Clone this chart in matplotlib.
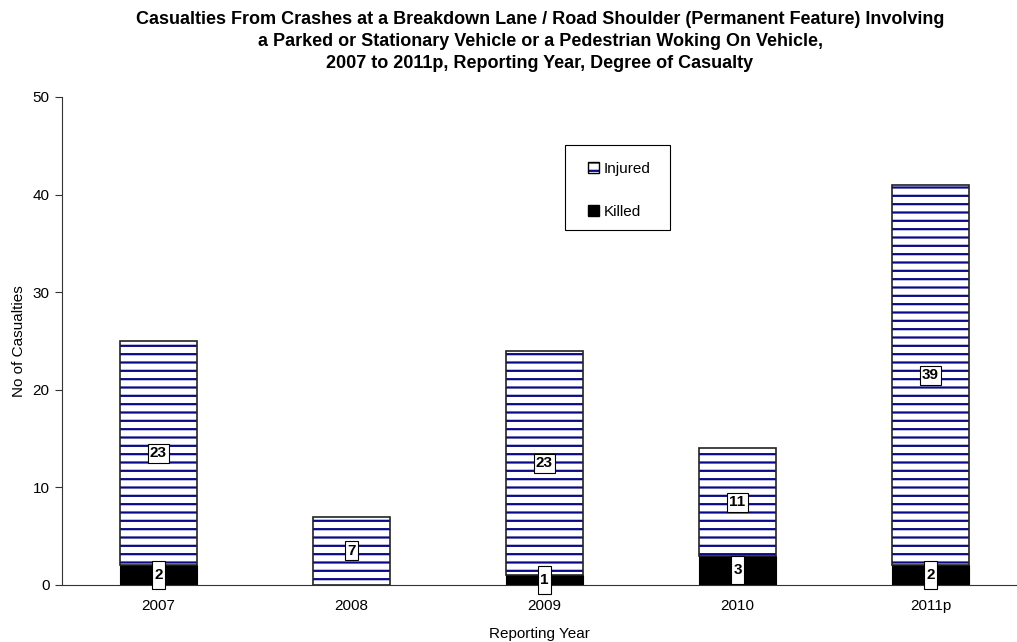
import numpy as np
import matplotlib.pyplot as plt
from matplotlib.patches import Patch, Rectangle
from matplotlib.path import Path
from matplotlib.legend_handler import HandlerTuple

# ---------------------------------------------------------
# Datos
# ---------------------------------------------------------
years = ["2007", "2008", "2009", "2010", "2011p"]
killed = [2, 0, 1, 3, 2]
injured = [23, 7, 23, 11, 39]

title = ("Casualties From Crashes at a Breakdown Lane / Road Shoulder (Permanent Feature) Involving\n"
         "a Parked or Stationary Vehicle or a Pedestrian Woking On Vehicle,\n"
         "2007 to 2011p, Reporting Year, Degree of Casualty")

plt.rcParams['font.family'] = ['Liberation Sans', 'DejaVu Sans']
plt.rcParams['hatch.linewidth'] = 1.6

W, H = 1017, 642
fig = plt.figure(figsize=(W / 100, H / 100), dpi=100)
left, right, top, bottom = 62, 1017, 97, 585
ax = fig.add_axes([left / W, 1 - bottom / H, (right - left) / W, (bottom - top) / H])

x = np.arange(len(years))
bw = 0.40
navy = "#0a0a88"


def rect_box(padx, pady):
    # caja rectangular con relleno distinto en x e y (pixeles)
    def box(x0, y0, width, height, mutation_size):
        x0, y0 = x0 - padx, y0 - pady
        x1, y1 = x0 + width + 2 * padx, y0 + height + 2 * pady
        return Path([(x0, y0), (x1, y0), (x1, y1), (x0, y1), (x0, y0)], closed=True)
    return box


# Killed
ax.bar(x, killed, bw, color="black", edgecolor="black", linewidth=0.8, zorder=2)
# Injured con rayado horizontal
ax.bar(x, injured, bw, bottom=killed, color="white", edgecolor=navy,
       hatch="--", linewidth=0, zorder=2)
ax.bar(x, injured, bw, bottom=killed, fill=False, edgecolor="#222222",
       linewidth=1.2, zorder=3)

for i in range(len(years)):
    if injured[i] > 0:
        ax.text(x[i], killed[i] + injured[i] / 2, str(injured[i]), ha="center", va="center",
                fontsize=11, fontweight="bold", zorder=5,
                bbox=dict(boxstyle=rect_box(2, 2.5), fc="white", ec="black", lw=0.8))
    if killed[i] > 0:
        ax.text(x[i], killed[i] / 2, str(killed[i]), ha="center", va="center",
                fontsize=11, fontweight="bold", zorder=5,
                bbox=dict(boxstyle=rect_box(2.5, 7), fc="white", ec="black", lw=0.8))

ax.set_xlim(-0.5, -0.5 + (right - left) / 193)
ax.set_ylim(0, 50)
ax.set_yticks(range(0, 51, 10))
ax.set_xticks(x)
ax.set_xticklabels(years, fontsize=11)
ax.tick_params(axis="y", labelsize=11, length=5, width=0.8, color="#333333", pad=4)
ax.tick_params(axis="x", length=0, pad=10)
for s in ["top", "right"]:
    ax.spines[s].set_visible(False)
for s in ["left", "bottom"]:
    ax.spines[s].set_color("#333333")
    ax.spines[s].set_linewidth(0.8)

ax.set_ylabel("No of Casualties", fontsize=11, labelpad=5)
ax.set_xlabel("Reporting Year", fontsize=11, labelpad=10)

fig.text(540 / W, 1 - 11 / H, title, ha="center", va="top", fontsize=13,
         fontweight="bold", linespacing=1.4)

# Leyenda: marco dibujado aparte
fig.add_artist(Rectangle((565 / W, 1 - 230 / H), 105 / W, 85 / H, transform=fig.transFigure,
                         fill=False, edgecolor="black", linewidth=0.8, zorder=6))
handles = [(Patch(facecolor="white", edgecolor=navy, hatch="--", linewidth=0),
            Patch(fill=False, edgecolor="black", linewidth=1.0)),
           Patch(facecolor="black", edgecolor="black")]
leg = ax.legend(handles, ["Injured", "Killed"], loc="upper left",
                handler_map={tuple: HandlerTuple(ndivide=1, pad=0)},
                bbox_to_anchor=(588 / W, 1 - 162 / H), bbox_transform=fig.transFigure,
                frameon=False, fontsize=11,
                handlelength=0.75, handleheight=0.75, handletextpad=0.3,
                labelspacing=1.9, borderpad=0, borderaxespad=0)

plt.savefig("out.png", dpi=100)
